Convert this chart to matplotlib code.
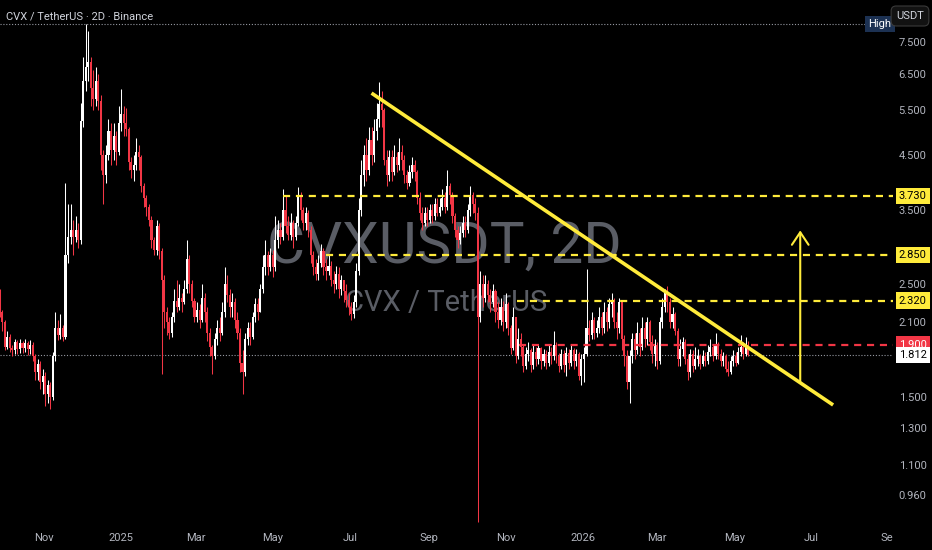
import numpy as np
import pandas as pd
import matplotlib
matplotlib.use("Agg")
import matplotlib.pyplot as plt
import matplotlib.dates as mdates
from matplotlib import font_manager as fm
from matplotlib.patches import Rectangle
from matplotlib.ticker import NullLocator, NullFormatter
from matplotlib.transforms import blended_transform_factory

names = {f.name for f in fm.fontManager.ttflist}
NARROW = "Liberation Sans Narrow" if "Liberation Sans Narrow" in names else "Roboto"
plt.rcParams["font.family"] = [NARROW, "DejaVu Sans"]

# ---------------- data ----------------
start_date = "2024-09-25"   # first 2D candle
first_open = 2.10
close = [2.40, 2.20, 2.10, 1.88, 1.97, 1.87, 1.85, 1.92, 1.86, 1.91,
         1.87, 1.91, 1.86, 1.90, 1.80, 1.68, 1.74, 1.60, 1.65, 1.52,
         1.58, 1.50, 1.80, 2.05, 1.98, 2.05, 1.97, 2.85, 3.10, 3.20,
         3.10, 3.20, 3.05, 5.25, 6.30, 6.70, 6.85, 6.10, 5.80, 6.30,
         5.75, 4.50, 4.10, 4.50, 5.00, 4.60, 4.90, 4.55, 5.20, 5.40,
         5.20, 5.05, 4.35, 4.20, 4.30, 4.55, 4.45, 3.90, 3.70, 3.55,
         3.35, 3.05, 2.92, 3.25, 2.90, 2.55, 2.20, 2.10, 2.00, 2.15,
         2.32, 2.25, 2.35, 2.30, 2.45, 2.80, 2.50, 2.32, 2.15, 2.22,
         2.12, 2.35, 2.20, 2.00, 1.88, 1.80, 1.95, 2.05, 2.00, 2.20,
         2.50, 2.38, 2.25, 2.30, 2.12, 2.00, 1.75, 1.68, 1.95, 2.05,
         1.97, 2.15, 2.28, 2.20, 2.45, 2.70, 2.85, 2.70, 2.85, 2.70,
         3.05, 3.20, 3.10, 3.50, 3.25, 3.12, 3.30, 3.10, 3.30, 3.75,
         3.50, 3.30, 3.45, 3.20, 2.85, 2.70, 2.62, 2.75, 2.90, 2.70,
         2.65, 2.72, 2.55, 2.50, 2.62, 2.45, 2.55, 2.42, 2.33, 2.25,
         2.18, 2.30, 2.65, 3.50, 4.10, 4.50, 4.20, 4.80, 4.50, 5.00,
         5.30, 5.65, 5.50, 4.40, 4.10, 4.45, 4.15, 4.45, 4.30, 4.55,
         4.40, 4.10, 3.95, 4.15, 4.30, 4.15, 3.70, 3.45, 3.30, 3.45,
         3.35, 3.50, 3.40, 3.60, 3.45, 3.55, 3.70, 3.55, 3.90, 3.75,
         3.40, 3.20, 3.05, 3.15, 3.30, 3.20, 3.50, 3.75, 3.60, 3.45,
         2.15, 2.50, 2.35, 2.50, 2.38, 2.30, 2.42, 2.20, 2.12, 2.25,
         2.10, 2.28, 2.05, 1.87, 2.15, 1.80, 1.95, 1.88, 1.72, 1.82,
         1.85, 1.73, 1.84, 1.78, 1.87, 1.76, 1.82, 1.75, 1.84, 1.80,
         1.90, 1.80, 1.72, 1.82, 1.73, 1.83, 1.75, 1.85, 1.76, 1.82,
         1.65, 1.78, 1.82, 2.05, 1.98, 2.12, 2.00, 2.05, 2.15, 2.05,
         2.20, 2.10, 2.28, 2.30, 2.10, 2.05, 2.30, 1.95, 1.80, 1.60,
         1.80, 1.95, 1.85, 2.00, 1.88, 2.05, 1.95, 2.10, 1.92, 1.82,
         1.90, 1.76, 2.10, 2.25, 2.40, 2.30, 2.10, 2.18, 2.02, 1.78,
         1.86, 1.92, 1.78, 1.68, 1.82, 1.72, 1.78, 1.80, 1.74, 1.80,
         1.76, 1.84, 1.88, 1.80, 1.90, 1.82, 1.76, 1.80, 1.70, 1.68,
         1.76, 1.80, 1.75, 1.84, 1.88, 1.82, 1.90, 1.812]
high = [2.47, 2.45, 2.22, 2.12, 2.02, 1.99, 1.90, 1.95, 1.94, 1.95,
        1.93, 1.95, 1.93, 1.94, 1.92, 1.82, 1.78, 1.76, 1.70, 1.68,
        1.62, 1.60, 1.84, 2.20, 2.12, 2.18, 2.08, 3.95, 3.60, 3.60,
        3.35, 3.40, 3.30, 5.70, 7.00, 8.14, 7.90, 7.00, 6.60, 6.70,
        6.50, 5.90, 4.60, 4.70, 5.30, 5.20, 5.20, 5.00, 5.60, 6.05,
        5.60, 5.55, 5.10, 4.45, 4.50, 4.85, 4.70, 4.50, 3.95, 3.75,
        3.60, 3.40, 3.10, 3.35, 3.30, 2.95, 2.60, 2.25, 2.15, 2.20,
        2.45, 2.55, 2.50, 2.40, 2.55, 3.05, 2.85, 2.55, 2.35, 2.30,
        2.28, 2.50, 2.40, 2.25, 2.05, 1.90, 2.00, 2.12, 2.15, 2.30,
        2.70, 2.60, 2.45, 2.40, 2.35, 2.20, 2.05, 1.85, 2.00, 2.10,
        2.10, 2.20, 2.35, 2.35, 2.50, 2.85, 3.05, 2.90, 2.95, 2.92,
        3.40, 3.35, 3.30, 3.85, 3.75, 3.40, 3.45, 3.35, 3.40, 3.88,
        3.80, 3.55, 3.55, 3.50, 3.25, 2.90, 2.80, 2.85, 3.00, 2.95,
        2.80, 2.85, 2.78, 2.65, 2.72, 2.70, 2.60, 2.55, 2.50, 2.40,
        2.30, 2.38, 2.75, 3.70, 4.40, 4.70, 4.85, 5.10, 5.10, 5.30,
        5.70, 6.25, 6.00, 5.55, 4.60, 4.60, 4.60, 4.70, 4.55, 4.85,
        4.70, 4.50, 4.20, 4.30, 4.45, 4.40, 4.20, 3.80, 3.55, 3.55,
        3.55, 3.60, 3.60, 3.70, 3.70, 3.70, 3.85, 3.80, 4.20, 3.95,
        3.80, 3.45, 3.25, 3.25, 3.40, 3.40, 3.60, 3.90, 3.80, 3.70,
        3.55, 2.65, 2.60, 2.60, 2.55, 2.45, 2.50, 2.45, 2.30, 2.35,
        2.32, 2.40, 2.30, 2.08, 2.25, 2.15, 2.05, 2.00, 1.90, 1.88,
        1.92, 1.87, 1.90, 1.88, 1.90, 1.88, 1.86, 1.85, 1.90, 1.88,
        2.02, 1.92, 1.83, 1.86, 1.85, 1.88, 1.86, 1.90, 1.87, 1.86,
        1.84, 1.82, 1.88, 2.68, 2.12, 2.20, 2.15, 2.12, 2.25, 2.20,
        2.30, 2.25, 2.35, 2.40, 2.35, 2.20, 2.35, 2.30, 1.98, 1.85,
        1.85, 2.00, 2.00, 2.10, 2.05, 2.15, 2.10, 2.15, 2.12, 1.98,
        1.95, 1.92, 2.15, 2.35, 2.45, 2.48, 2.35, 2.25, 2.20, 2.05,
        1.95, 1.97, 1.95, 1.82, 1.86, 1.85, 1.88, 1.86, 1.82, 1.85,
        1.84, 1.90, 1.95, 1.90, 2.00, 1.92, 1.86, 1.84, 1.82, 1.76,
        1.80, 1.85, 1.84, 1.88, 1.98, 1.92, 1.97, 1.93]
low = [2.05, 2.15, 2.02, 1.85, 1.86, 1.84, 1.80, 1.82, 1.82, 1.83,
       1.83, 1.84, 1.81, 1.82, 1.76, 1.62, 1.62, 1.55, 1.52, 1.44,
       1.46, 1.42, 1.48, 1.76, 1.94, 1.95, 1.93, 1.95, 2.75, 3.00,
       2.85, 3.02, 2.95, 3.00, 5.10, 6.00, 6.30, 5.60, 5.50, 5.60,
       5.50, 4.20, 3.60, 3.95, 4.40, 4.30, 4.40, 4.30, 4.50, 5.00,
       4.90, 4.90, 4.20, 4.05, 4.00, 4.20, 4.20, 3.80, 3.55, 3.40,
       3.25, 2.95, 2.85, 2.85, 2.80, 1.66, 2.05, 1.98, 1.95, 1.97,
       2.10, 2.20, 2.22, 2.20, 2.28, 2.40, 2.40, 2.25, 2.10, 2.10,
       2.05, 2.10, 2.10, 1.93, 1.80, 1.66, 1.78, 1.90, 1.93, 1.98,
       2.15, 2.30, 2.15, 2.15, 2.05, 1.95, 1.68, 1.52, 1.65, 1.90,
       1.90, 1.95, 2.10, 2.12, 2.20, 2.40, 2.60, 2.60, 2.65, 2.58,
       2.65, 2.95, 3.00, 3.05, 3.15, 3.05, 3.05, 2.95, 3.05, 3.25,
       3.35, 3.20, 3.20, 3.10, 2.75, 2.60, 2.55, 2.55, 2.70, 2.60,
       2.55, 2.60, 2.48, 2.40, 2.45, 2.35, 2.38, 2.30, 2.25, 2.17,
       2.12, 2.14, 2.25, 2.60, 3.40, 3.90, 4.00, 4.10, 4.30, 4.35,
       4.80, 5.10, 5.10, 4.30, 3.90, 4.00, 4.00, 4.10, 4.15, 4.20,
       4.20, 3.95, 3.85, 3.90, 4.05, 4.00, 3.60, 3.35, 3.20, 3.25,
       3.25, 3.30, 3.30, 3.35, 3.40, 3.40, 3.50, 3.45, 3.50, 3.60,
       3.30, 3.10, 2.95, 3.00, 3.10, 3.10, 3.15, 3.40, 3.45, 3.35,
       0.85, 2.10, 2.25, 2.30, 2.30, 2.20, 2.25, 2.10, 2.05, 2.08,
       2.02, 2.05, 1.98, 1.82, 1.85, 1.75, 1.78, 1.80, 1.68, 1.70,
       1.76, 1.68, 1.70, 1.72, 1.74, 1.70, 1.72, 1.70, 1.72, 1.74,
       1.77, 1.75, 1.68, 1.70, 1.68, 1.65, 1.70, 1.72, 1.70, 1.72,
       1.62, 1.58, 1.60, 1.80, 1.93, 1.95, 1.95, 1.97, 2.00, 1.98,
       2.00, 2.02, 2.05, 2.15, 2.05, 1.95, 2.00, 1.85, 1.72, 1.55,
       1.46, 1.75, 1.78, 1.82, 1.80, 1.85, 1.88, 1.90, 1.85, 1.75,
       1.72, 1.70, 1.74, 2.05, 2.20, 2.20, 2.05, 2.05, 1.98, 1.72,
       1.72, 1.80, 1.74, 1.62, 1.64, 1.68, 1.70, 1.72, 1.70, 1.72,
       1.72, 1.74, 1.80, 1.76, 1.78, 1.78, 1.72, 1.72, 1.68, 1.65,
       1.66, 1.72, 1.72, 1.74, 1.80, 1.78, 1.80, 1.80]

# drawn levels / annotations
level_values = [3.730, 2.850, 2.320, 1.900]
level_starts = ["2025-05-09", "2025-06-12", "2025-11-10", "2025-11-12"]
level_colors = ["#ffeb3b", "#ffeb3b", "#ffeb3b", "#f23645"]
level_text_colors = ["#000000", "#000000", "#000000", "#ffffff"]
trend_dates = ["2025-07-18", "2026-07-18"]
trend_prices = [5.95, 1.444]
arrow_date = "2026-06-22"
arrow_prices = [1.60, 3.19]

ytick_values = [7.5, 6.5, 5.5, 4.5, 3.5, 2.5, 2.1, 1.5, 1.3, 1.1, 0.96]
xtick_dates = ["2024-11-01", "2025-01-01", "2025-03-01", "2025-05-01", "2025-07-01",
               "2025-09-01", "2025-11-01", "2026-01-01", "2026-03-01", "2026-05-01",
               "2026-07-01", "2026-09-01"]
xtick_labels = ["Nov", "2025", "Mar", "May", "Jul", "Sep", "Nov", "2026", "Mar", "May",
                "Jul", "Sep"]

# ---------------- figure ----------------
W, H = 932, 550
AX_RIGHT_PX, AX_BOTTOM_PX = 893, 523
BG = "#000000"
UP, DOWN = "#ffffff", "#f23645"
YELLOW = "#ffeb3b"
TXT = "#b2b5be"

fig = plt.figure(figsize=(W / 100, H / 100), dpi=100, facecolor=BG)
ax = fig.add_axes([0, (H - AX_BOTTOM_PX) / H, AX_RIGHT_PX / W, AX_BOTTOM_PX / H])
ax.set_facecolor(BG)

c = np.array(close)
o = np.concatenate([[first_open], c[:-1]])
hi = np.maximum(np.array(high), np.maximum(o, c))
lo = np.minimum(np.array(low), np.minimum(o, c))
dates = pd.date_range(start_date, periods=len(c), freq="2D")
x = mdates.date2num(dates)
up = c >= o
cols = np.where(up, UP, DOWN)

ax.set_yscale("log")
ax.vlines(x, lo, hi, colors=cols, linewidth=0.75, zorder=2)
ax.bar(x, np.abs(c - o), bottom=np.minimum(o, c), width=1.65, color=cols,
       linewidth=0, zorder=2.1)

# axis ranges (pixel calibrated)
nov1 = mdates.date2num(pd.Timestamp("2024-11-01"))
PX_PER_DAY = 1.2646
x0 = nov1 + (0 - 44) / PX_PER_DAY
x1 = nov1 + (AX_RIGHT_PX - 44) / PX_PER_DAY
ax.set_xlim(x0, x1)
ax.set_ylim(0.845, 9.08)

for s in ax.spines.values():
    s.set_visible(False)

ax.yaxis.tick_right()
ax.set_yticks(ytick_values)
ax.set_yticklabels([f"{v:.3f}" for v in ytick_values])
ax.yaxis.set_minor_locator(NullLocator())
ax.yaxis.set_minor_formatter(NullFormatter())
ax.tick_params(axis="y", length=0, pad=4, labelcolor=TXT, labelsize=8)
ax.set_xticks(mdates.date2num(pd.to_datetime(xtick_dates)))
ax.set_xticklabels(xtick_labels)
ax.tick_params(axis="x", length=0, pad=7, labelcolor=TXT, labelsize=8)

# watermark
ax.text(0.498, 1 - 263 / AX_BOTTOM_PX, "CVXUSDT, 2D", transform=ax.transAxes,
        ha="center", va="baseline", fontsize=42, color="#5a5d65", zorder=0.5)
ax.text(0.5, 1 - 311 / AX_BOTTOM_PX, "CVX / TetherUS", transform=ax.transAxes,
        ha="center", va="baseline", fontsize=21, color="#5a5d65", zorder=0.5)

trans = blended_transform_factory(ax.transAxes, ax.transData)

# horizontal levels
for v, sd, col, tc in zip(level_values, level_starts, level_colors, level_text_colors):
    ax.hlines(v, mdates.date2num(pd.Timestamp(sd)), x1, colors=col, linewidth=1.6,
              linestyles=(0, (3.2, 2.6)), zorder=3)
    ax.annotate(f"{v:.3f}", xy=(1, v), xycoords=trans, xytext=(4.2, 0),
                textcoords="offset points", ha="left", va="center", fontsize=8,
                color=tc, annotation_clip=False,
                bbox=dict(boxstyle="square,pad=0.28", fc=col, ec="none"))

# last price dotted line + label
last = c[-1]
ax.axhline(last, color="#9598a1", linewidth=0.8, linestyle=(0, (1, 1.6)), zorder=1.5)
ax.annotate(f"{last:.3f}", xy=(1, last), xycoords=trans, xytext=(4.2, 0),
            textcoords="offset points", ha="left", va="center", fontsize=8,
            color="#000000", annotation_clip=False,
            bbox=dict(boxstyle="square,pad=0.28", fc="#ffffff", ec="none"))

# High line
hmax = hi.max()
ax.hlines(hmax, x0, nov1 + (866 - 44) / PX_PER_DAY, colors="#9598a1", linewidth=0.8,
          linestyles=(0, (1, 1.6)), zorder=1.5)
ax.annotate("High", xy=(1, hmax), xycoords=trans, xytext=(-9.4, 0),
            textcoords="offset points", ha="center", va="center", fontsize=8,
            color="#ffffff", annotation_clip=False,
            bbox=dict(boxstyle="square,pad=0.3", fc="#1c3152", ec="none"))

# trendline + arrow
ax.plot(mdates.date2num(pd.to_datetime(trend_dates)), trend_prices, color=YELLOW,
        linewidth=2.6, solid_capstyle="butt", zorder=4)
ad = mdates.date2num(pd.Timestamp(arrow_date))
ax.annotate("", xy=(ad, arrow_prices[1]), xytext=(ad, arrow_prices[0]),
            arrowprops=dict(arrowstyle="->,head_length=0.45,head_width=0.3",
                            color=YELLOW, lw=1.5, mutation_scale=20,
                            shrinkA=0, shrinkB=0), zorder=4)

# title + currency button
fig.text(6 / W, 1 - 16 / H, "CVX / TetherUS · 2D · Binance", ha="left", va="center",
         fontsize=8, color="#d1d4dc")
fig.text(910 / W, 1 - 16 / H, "USDT", ha="center", va="center", fontsize=8,
         color="#d1d4dc", zorder=6,
         bbox=dict(boxstyle="round,pad=0.45", fc="#121212", ec="#3a3a3a", lw=0.8))

# price-axis corner mask (clips last month label like the original)
fig.patches.append(Rectangle((AX_RIGHT_PX / W, 0), (W - AX_RIGHT_PX) / W,
                             (H - AX_BOTTOM_PX) / H, transform=fig.transFigure,
                             fc=BG, ec="none", zorder=5))

fig.savefig("out.png", dpi=100, facecolor=BG)
